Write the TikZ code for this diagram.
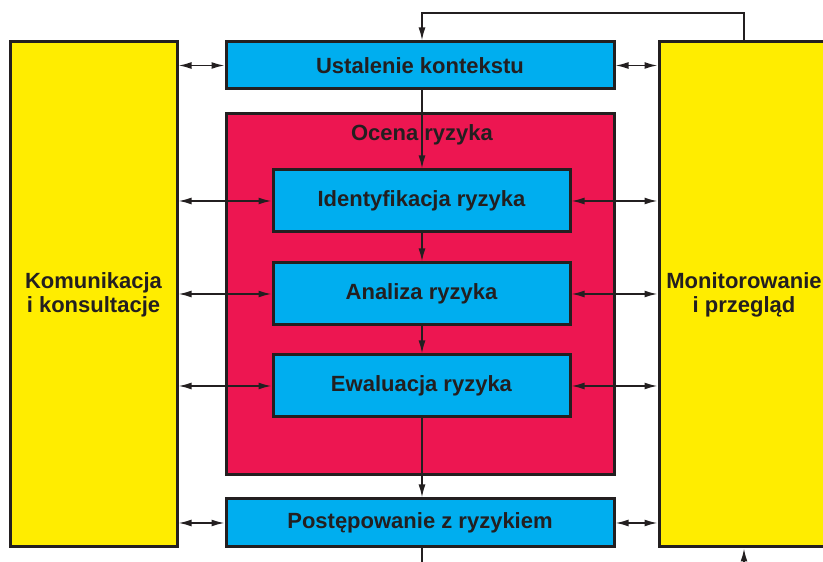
\documentclass[tikz,border=0pt]{standalone}
\usepackage{fontspec}
\setmainfont{Liberation Sans}
\usetikzlibrary{arrows.meta}
\definecolor{ciemny}{HTML}{231F20}
\definecolor{zolty}{HTML}{FFED00}
\definecolor{niebieski}{HTML}{00AEEF}
\definecolor{czerwony}{HTML}{ED1651}
\tikzset{
    ramka/.style={draw=ciemny, line width=3pt, inner sep=0pt},
    blok/.style={ramka, fill=niebieski, minimum height=#1,
        font=\bfseries\fontsize{22}{24}\selectfont, text=ciemny},
    bok/.style={ramka, fill=zolty, minimum width=#1, minimum height=505pt,
        align=center, font=\bfseries\fontsize{22}{24}\selectfont, text=ciemny},
    strzalka/.style={draw=ciemny, line width=1.6pt},
    grot/.tip={Latex[length=13pt,width=7pt]}
}

\begin{document}
\begin{tikzpicture}[x=1pt, y=1pt, >=grot]
            \useasboundingbox (0,0) rectangle (823,562);
            \clip (0,0) rectangle (823,562);

            % boki
            \node [bok=167pt] (lewy) at (93.5, 267.5) {Komunikacja\\i konsultacje};
            \node [bok=170pt] (prawy) at (744, 267.5) {Monitorowanie\\i przegląd};

            % ocena ryzyka
            \node [ramka, fill=czerwony, minimum width=388pt, minimum height=361pt] (ocena) at (420, 267.5) {};
            \node [font=\bfseries\fontsize{22}{24}\selectfont, text=ciemny] (ocenatxt) at (422, 427) {Ocena ryzyka};

            % bloki
            \node [blok=47pt, minimum width=388pt] (ustalenie) at (420, 496.5) {Ustalenie kontekstu};
            \node [blok=62pt, minimum width=297pt] (identyfikacja) at (421.5, 361) {Identyfikacja ryzyka};
            \node [blok=62pt, minimum width=297pt] (analiza) at (421.5, 268) {Analiza ryzyka};
            \node [blok=62pt, minimum width=297pt] (ewaluacja) at (421.5, 176) {Ewaluacja ryzyka};
            \node [blok=48pt, minimum width=388pt] (postepowanie) at (420, 39) {Postępowanie z ryzykiem};

            \coordinate (gora) at (0, 549);
            \coordinate (dol) at (0, -12);

            % przeplyw
            \draw [strzalka, ->] (ustalenie.south -| ocenatxt) -- (identyfikacja.north -| ocenatxt);
            \draw [strzalka, ->] (identyfikacja.south -| ocenatxt) -- (analiza.north -| ocenatxt);
            \draw [strzalka, ->] (analiza.south -| ocenatxt) -- (ewaluacja.north -| ocenatxt);
            \draw [strzalka, ->] (ewaluacja.south -| ocenatxt) -- (postepowanie.north -| ocenatxt);

            % petle
            \draw [strzalka, ->] (prawy.north) |- (gora -| ocenatxt) -- (ustalenie.north -| ocenatxt);
            \draw [strzalka, ->] (postepowanie.south -| ocenatxt) |- (dol -| prawy.south) -- (prawy.south);

            % komunikacja i monitorowanie
            \foreach \n in {ustalenie, identyfikacja, analiza, ewaluacja, postepowanie} {
                \draw [strzalka, <->] (lewy.east |- \n) -- (\n.west);
                \draw [strzalka, <->] (\n.east) -- (prawy.west |- \n);
            }
        \end{tikzpicture}
\end{document}
